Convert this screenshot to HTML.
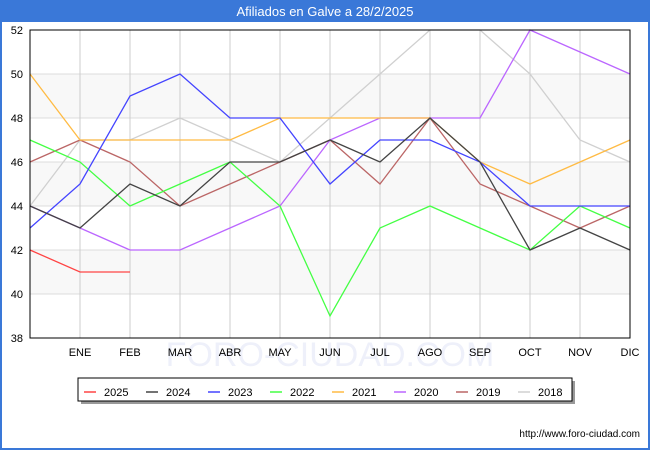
<!DOCTYPE html>
<html><head><meta charset="utf-8"><style>
body{margin:0;width:650px;height:450px;font-family:"Liberation Sans",sans-serif;background:#fff;overflow:hidden}
</style></head><body>
<svg width="650" height="450" xmlns="http://www.w3.org/2000/svg">
<rect x="0" y="0" width="650" height="450" fill="#3a78d8"/>
<rect x="2" y="22" width="646" height="426" fill="#fff"/>
<text x="325" y="16" fill="#fff" font-size="13" text-anchor="middle">Afiliados en Galve a 28/2/2025</text>
<g id="grid"></g>
<text x="330" y="366" fill="#eef0fa" font-size="34" text-anchor="middle">FORO-CIUDAD.COM</text>
<g id="series"></g>
<rect x="30" y="30" width="600" height="308" fill="none" stroke="#000" stroke-width="1"/>
<g id="axes" font-size="11" fill="#000"></g>
<rect x="81" y="381" width="494" height="23" fill="#999"/>
<rect x="78" y="378" width="494" height="23" fill="#fff" stroke="#000" stroke-width="1"/>
<g id="legend" font-size="11"></g>
<text x="640" y="437" font-size="10" text-anchor="end">http://www.foro-ciudad.com</text>
</svg>
<script>
const months=["","ENE","FEB","MAR","ABR","MAY","JUN","JUL","AGO","SEP","OCT","NOV","DIC"];
const yTicks=[38,40,42,44,46,48,50,52];
const seriesNames=["2025","2024","2023","2022","2021","2020","2019","2018"];
const colors=["#ff4444","#444444","#4444ff","#44ff44","#ffbb44","#bb66ff","#bb6666","#d0d0d0"];
const v2025=[42,41,41];
const v2024=[44,43,45,44,46,46,47,46,48,46,42,43,42];
const v2023=[43,45,49,50,48,48,45,47,47,46,44,44,44];
const v2022=[47,46,44,45,46,44,39,43,44,43,42,44,43];
const v2021=[50,47,47,47,47,48,48,48,48,46,45,46,47];
const v2020=[44,43,42,42,43,44,47,48,48,48,52,51,50];
const v2019=[46,47,46,44,45,46,47,45,48,45,44,43,44];
const v2018=[44,47,47,48,47,46,48,50,52,52,50,47,46];
const NS="http://www.w3.org/2000/svg";
const X=i=>30+i*50, Y=v=>30+(52-v)*22;
function mk(t,a,p){const e=document.createElementNS(NS,t);for(const k in a)e.setAttribute(k,a[k]);p.appendChild(e);return e;}
const grid=document.getElementById('grid'),axes=document.getElementById('axes');
for(let i=0;i<yTicks.length-1;i++){
 const r=mk('rect',{x:30,y:Y(yTicks[i+1]),width:600,height:Y(yTicks[i])-Y(yTicks[i+1]),fill:i%2?'#f8f8f8':'#fff'},grid);
 
 
}
yTicks.forEach(t=>{
 const l=mk('line',{x1:30,x2:630,y1:Y(t),y2:Y(t),stroke:'#ddd'},grid);
 
 
 const tx=mk('text',{x:23,y:Y(t)+4,'text-anchor':'end'},axes);tx.textContent=t;
 
 
});
months.forEach((m,i)=>{
 if(i>0){const l=mk('line',{x1:X(i),x2:X(i),y1:30,y2:338,stroke:'#ccc'},grid);
 
 }
 if(m){const tx=mk('text',{x:X(i),y:356,'text-anchor':'middle'},axes);tx.textContent=m;
 
 }
});
const data=[v2025,v2024,v2023,v2022,v2021,v2020,v2019,v2018];
const sg=document.getElementById('series');
for(let s=data.length-1;s>=0;s--){
 const p=mk('polyline',{points:data[s].map((v,i)=>X(i)+','+Y(v)).join(' '),fill:'none',stroke:colors[s],'stroke-width':1.3},sg);
 
 
}
const lg=document.getElementById('legend');
seriesNames.forEach((n,i)=>{
 const x0=84+i*62;
 const l=mk('line',{x1:x0,x2:x0+12,y1:392,y2:392,stroke:colors[i],'stroke-width':1.5},lg);
 
 
 const t=mk('text',{x:x0+20,y:396},lg);t.textContent=n;
 
 
});
</script>
</body></html>
